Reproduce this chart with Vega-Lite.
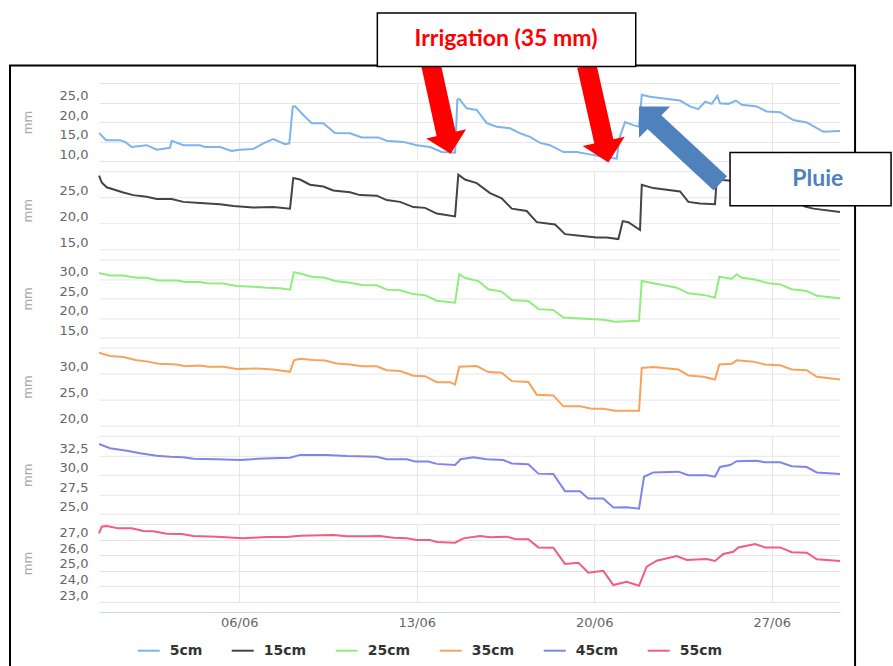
{
"$schema":"https://vega.github.io/schema/vega-lite/v6.json",
"padding":{"left":9,"top":12,"right":0,"bottom":0},
"background":"white",
"spacing":10.2,
"bounds":"flush",
"datasets":{"soil":[
{"s":"5cm","t":"2021-05-31T11:10","v":17.2},{"s":"5cm","t":"2021-05-31T17:50","v":15.35},{"s":"5cm","t":"2021-06-01T07:00","v":15.35},{"s":"5cm","t":"2021-06-01T11:45","v":14.9},{"s":"5cm","t":"2021-06-01T18:05","v":13.6},{"s":"5cm","t":"2021-06-02T08:20","v":14.05},{"s":"5cm","t":"2021-06-02T17:50","v":12.9},{"s":"5cm","t":"2021-06-03T06:20","v":13.4},{"s":"5cm","t":"2021-06-03T08:00","v":15.2},{"s":"5cm","t":"2021-06-03T19:00","v":14.05},{"s":"5cm","t":"2021-06-04T10:50","v":14.05},{"s":"5cm","t":"2021-06-04T15:30","v":13.6},{"s":"5cm","t":"2021-06-05T05:45","v":13.6},{"s":"5cm","t":"2021-06-05T16:50","v":12.6},{"s":"5cm","t":"2021-06-06T00:40","v":12.9},{"s":"5cm","t":"2021-06-06T13:15","v":13.1},{"s":"5cm","t":"2021-06-06T22:45","v":14.5},{"s":"5cm","t":"2021-06-07T08:10","v":15.6},{"s":"5cm","t":"2021-06-07T19:15","v":14.3},{"s":"5cm","t":"2021-06-07T23:20","v":14.5},{"s":"5cm","t":"2021-06-08T02:35","v":23.95},{"s":"5cm","t":"2021-06-08T04:45","v":24.0},{"s":"5cm","t":"2021-06-08T12:35","v":21.8},{"s":"5cm","t":"2021-06-08T20:35","v":19.7},{"s":"5cm","t":"2021-06-09T07:30","v":19.7},{"s":"5cm","t":"2021-06-09T18:35","v":17.2},{"s":"5cm","t":"2021-06-10T08:50","v":17.1},{"s":"5cm","t":"2021-06-10T19:50","v":16.05},{"s":"5cm","t":"2021-06-11T11:35","v":16.05},{"s":"5cm","t":"2021-06-11T19:35","v":15.2},{"s":"5cm","t":"2021-06-12T11:15","v":14.9},{"s":"5cm","t":"2021-06-13T00:00","v":14.05},{"s":"5cm","t":"2021-06-13T12:35","v":13.6},{"s":"5cm","t":"2021-06-13T23:35","v":12.3},{"s":"5cm","t":"2021-06-14T12:15","v":12.1},{"s":"5cm","t":"2021-06-14T14:25","v":25.7},{"s":"5cm","t":"2021-06-14T16:15","v":25.9},{"s":"5cm","t":"2021-06-14T23:15","v":23.5},{"s":"5cm","t":"2021-06-15T08:45","v":23.1},{"s":"5cm","t":"2021-06-15T18:15","v":19.7},{"s":"5cm","t":"2021-06-16T03:40","v":18.8},{"s":"5cm","t":"2021-06-16T16:15","v":18.4},{"s":"5cm","t":"2021-06-17T01:45","v":17.1},{"s":"5cm","t":"2021-06-17T11:15","v":16.2},{"s":"5cm","t":"2021-06-17T20:40","v":14.65},{"s":"5cm","t":"2021-06-18T06:10","v":14.05},{"s":"5cm","t":"2021-06-18T18:45","v":12.3},{"s":"5cm","t":"2021-06-19T07:25","v":12.3},{"s":"5cm","t":"2021-06-19T20:00","v":11.7},{"s":"5cm","t":"2021-06-20T08:35","v":11.0},{"s":"5cm","t":"2021-06-20T21:20","v":10.6},{"s":"5cm","t":"2021-06-20T23:45","v":15.8},{"s":"5cm","t":"2021-06-21T05:10","v":20.0},{"s":"5cm","t":"2021-06-21T13:00","v":19.2},{"s":"5cm","t":"2021-06-21T18:25","v":18.8},{"s":"5cm","t":"2021-06-21T21:00","v":27.0},{"s":"5cm","t":"2021-06-22T04:50","v":26.5},{"s":"5cm","t":"2021-06-22T15:55","v":26.1},{"s":"5cm","t":"2021-06-23T09:15","v":25.5},{"s":"5cm","t":"2021-06-23T18:40","v":24.0},{"s":"5cm","t":"2021-06-24T02:35","v":23.3},{"s":"5cm","t":"2021-06-24T08:55","v":25.2},{"s":"5cm","t":"2021-06-24T15:15","v":24.65},{"s":"5cm","t":"2021-06-24T20:30","v":26.7},{"s":"5cm","t":"2021-06-24T23:05","v":24.8},{"s":"5cm","t":"2021-06-25T07:00","v":24.65},{"s":"5cm","t":"2021-06-25T14:15","v":25.5},{"s":"5cm","t":"2021-06-25T19:40","v":24.4},{"s":"5cm","t":"2021-06-26T09:50","v":24.0},{"s":"5cm","t":"2021-06-26T19:20","v":22.7},{"s":"5cm","t":"2021-06-27T07:55","v":22.5},{"s":"5cm","t":"2021-06-27T20:30","v":20.5},{"s":"5cm","t":"2021-06-28T09:10","v":19.9},{"s":"5cm","t":"2021-06-29T00:55","v":17.5},{"s":"5cm","t":"2021-06-29T16:40","v":17.7},
{"s":"15cm","t":"2021-05-31T11:10","v":29.15},{"s":"15cm","t":"2021-05-31T13:45","v":27.85},{"s":"15cm","t":"2021-05-31T18:25","v":26.9},{"s":"15cm","t":"2021-06-01T10:10","v":25.9},{"s":"15cm","t":"2021-06-01T19:40","v":25.4},{"s":"15cm","t":"2021-06-02T08:20","v":25.1},{"s":"15cm","t":"2021-06-02T17:50","v":24.65},{"s":"15cm","t":"2021-06-03T08:00","v":24.65},{"s":"15cm","t":"2021-06-03T19:00","v":24.1},{"s":"15cm","t":"2021-06-04T10:50","v":23.9},{"s":"15cm","t":"2021-06-05T05:45","v":23.65},{"s":"15cm","t":"2021-06-05T18:20","v":23.3},{"s":"15cm","t":"2021-06-06T13:15","v":23.0},{"s":"15cm","t":"2021-06-07T08:10","v":23.1},{"s":"15cm","t":"2021-06-08T00:00","v":22.8},{"s":"15cm","t":"2021-06-08T03:05","v":28.7},{"s":"15cm","t":"2021-06-08T09:25","v":28.4},{"s":"15cm","t":"2021-06-08T18:55","v":27.4},{"s":"15cm","t":"2021-06-09T07:30","v":27.05},{"s":"15cm","t":"2021-06-09T17:00","v":26.3},{"s":"15cm","t":"2021-06-10T08:50","v":25.95},{"s":"15cm","t":"2021-06-10T18:15","v":25.4},{"s":"15cm","t":"2021-06-11T10:05","v":25.3},{"s":"15cm","t":"2021-06-11T19:35","v":24.45},{"s":"15cm","t":"2021-06-12T08:10","v":24.1},{"s":"15cm","t":"2021-06-12T20:45","v":23.1},{"s":"15cm","t":"2021-06-13T07:50","v":22.95},{"s":"15cm","t":"2021-06-13T18:55","v":21.85},{"s":"15cm","t":"2021-06-14T12:15","v":21.3},{"s":"15cm","t":"2021-06-14T15:20","v":29.35},{"s":"15cm","t":"2021-06-14T21:40","v":28.4},{"s":"15cm","t":"2021-06-15T08:45","v":27.7},{"s":"15cm","t":"2021-06-15T21:20","v":25.8},{"s":"15cm","t":"2021-06-16T08:25","v":24.8},{"s":"15cm","t":"2021-06-16T17:55","v":22.8},{"s":"15cm","t":"2021-06-17T08:05","v":22.35},{"s":"15cm","t":"2021-06-17T17:35","v":20.2},{"s":"15cm","t":"2021-06-18T10:55","v":19.75},{"s":"15cm","t":"2021-06-18T20:20","v":17.9},{"s":"15cm","t":"2021-06-19T10:35","v":17.6},{"s":"15cm","t":"2021-06-20T02:20","v":17.25},{"s":"15cm","t":"2021-06-20T11:50","v":17.25},{"s":"15cm","t":"2021-06-20T22:50","v":16.95},{"s":"15cm","t":"2021-06-21T03:00","v":20.4},{"s":"15cm","t":"2021-06-21T08:15","v":20.2},{"s":"15cm","t":"2021-06-21T19:20","v":18.7},{"s":"15cm","t":"2021-06-21T21:00","v":27.4},{"s":"15cm","t":"2021-06-22T07:55","v":26.75},{"s":"15cm","t":"2021-06-23T09:15","v":26.1},{"s":"15cm","t":"2021-06-23T17:05","v":24.1},{"s":"15cm","t":"2021-06-24T04:10","v":23.8},{"s":"15cm","t":"2021-06-24T18:20","v":23.65},{"s":"15cm","t":"2021-06-24T20:00","v":28.4},{"s":"15cm","t":"2021-06-25T07:00","v":28.2},{"s":"15cm","t":"2021-06-25T22:45","v":27.8},{"s":"15cm","t":"2021-06-26T17:40","v":27.2},{"s":"15cm","t":"2021-06-27T07:55","v":26.5},{"s":"15cm","t":"2021-06-27T22:05","v":24.5},{"s":"15cm","t":"2021-06-28T07:35","v":23.2},{"s":"15cm","t":"2021-06-28T15:25","v":22.8},{"s":"15cm","t":"2021-06-29T16:40","v":22.15},
{"s":"25cm","t":"2021-05-31T11:10","v":31.5},{"s":"25cm","t":"2021-05-31T21:35","v":30.9},{"s":"25cm","t":"2021-06-01T10:10","v":30.9},{"s":"25cm","t":"2021-06-01T22:50","v":30.3},{"s":"25cm","t":"2021-06-02T08:20","v":30.3},{"s":"25cm","t":"2021-06-02T19:20","v":29.6},{"s":"25cm","t":"2021-06-03T12:45","v":29.6},{"s":"25cm","t":"2021-06-03T20:35","v":29.2},{"s":"25cm","t":"2021-06-04T10:50","v":29.2},{"s":"25cm","t":"2021-06-04T17:10","v":28.9},{"s":"25cm","t":"2021-06-05T08:50","v":28.8},{"s":"25cm","t":"2021-06-05T21:30","v":28.2},{"s":"25cm","t":"2021-06-06T13:15","v":28.0},{"s":"25cm","t":"2021-06-07T01:55","v":27.75},{"s":"25cm","t":"2021-06-07T14:30","v":27.6},{"s":"25cm","t":"2021-06-08T00:00","v":27.25},{"s":"25cm","t":"2021-06-08T03:45","v":31.75},{"s":"25cm","t":"2021-06-08T09:25","v":31.4},{"s":"25cm","t":"2021-06-08T20:35","v":30.55},{"s":"25cm","t":"2021-06-09T09:10","v":30.3},{"s":"25cm","t":"2021-06-09T18:35","v":29.45},{"s":"25cm","t":"2021-06-10T08:50","v":29.0},{"s":"25cm","t":"2021-06-10T19:50","v":28.45},{"s":"25cm","t":"2021-06-11T10:05","v":28.35},{"s":"25cm","t":"2021-06-11T19:35","v":27.25},{"s":"25cm","t":"2021-06-12T08:10","v":27.1},{"s":"25cm","t":"2021-06-12T20:45","v":26.1},{"s":"25cm","t":"2021-06-13T07:50","v":25.8},{"s":"25cm","t":"2021-06-13T18:55","v":24.4},{"s":"25cm","t":"2021-06-14T12:15","v":23.9},{"s":"25cm","t":"2021-06-14T16:15","v":31.2},{"s":"25cm","t":"2021-06-14T21:40","v":30.3},{"s":"25cm","t":"2021-06-15T10:15","v":29.45},{"s":"25cm","t":"2021-06-15T19:45","v":27.35},{"s":"25cm","t":"2021-06-16T08:25","v":26.75},{"s":"25cm","t":"2021-06-16T17:55","v":24.6},{"s":"25cm","t":"2021-06-17T09:35","v":24.35},{"s":"25cm","t":"2021-06-17T19:05","v":22.25},{"s":"25cm","t":"2021-06-18T09:15","v":22.05},{"s":"25cm","t":"2021-06-18T18:45","v":20.1},{"s":"25cm","t":"2021-06-19T10:35","v":19.85},{"s":"25cm","t":"2021-06-20T08:35","v":19.5},{"s":"25cm","t":"2021-06-20T19:40","v":19.0},{"s":"25cm","t":"2021-06-21T18:25","v":19.25},{"s":"25cm","t":"2021-06-21T21:00","v":29.45},{"s":"25cm","t":"2021-06-22T07:55","v":28.9},{"s":"25cm","t":"2021-06-23T06:05","v":27.75},{"s":"25cm","t":"2021-06-23T17:05","v":26.3},{"s":"25cm","t":"2021-06-24T07:15","v":25.9},{"s":"25cm","t":"2021-06-24T18:20","v":25.2},{"s":"25cm","t":"2021-06-24T22:25","v":30.55},{"s":"25cm","t":"2021-06-25T10:10","v":30.05},{"s":"25cm","t":"2021-06-25T14:55","v":31.2},{"s":"25cm","t":"2021-06-25T19:40","v":30.3},{"s":"25cm","t":"2021-06-26T06:40","v":29.9},{"s":"25cm","t":"2021-06-26T20:50","v":28.9},{"s":"25cm","t":"2021-06-27T07:55","v":28.6},{"s":"25cm","t":"2021-06-27T19:00","v":27.35},{"s":"25cm","t":"2021-06-28T09:10","v":26.9},{"s":"25cm","t":"2021-06-28T18:40","v":25.65},{"s":"25cm","t":"2021-06-29T16:40","v":25.05},
{"s":"35cm","t":"2021-05-31T11:10","v":34.0},{"s":"35cm","t":"2021-05-31T21:35","v":33.4},{"s":"35cm","t":"2021-06-01T10:10","v":33.2},{"s":"35cm","t":"2021-06-01T22:50","v":32.55},{"s":"35cm","t":"2021-06-02T08:20","v":32.35},{"s":"35cm","t":"2021-06-02T19:20","v":31.9},{"s":"35cm","t":"2021-06-03T12:45","v":31.75},{"s":"35cm","t":"2021-06-03T20:35","v":31.4},{"s":"35cm","t":"2021-06-04T10:50","v":31.55},{"s":"35cm","t":"2021-06-04T18:40","v":31.3},{"s":"35cm","t":"2021-06-05T08:50","v":31.3},{"s":"35cm","t":"2021-06-05T21:30","v":30.9},{"s":"35cm","t":"2021-06-06T16:30","v":31.0},{"s":"35cm","t":"2021-06-07T08:10","v":30.8},{"s":"35cm","t":"2021-06-08T00:00","v":30.35},{"s":"35cm","t":"2021-06-08T03:45","v":32.55},{"s":"35cm","t":"2021-06-08T09:25","v":32.85},{"s":"35cm","t":"2021-06-08T22:05","v":32.6},{"s":"35cm","t":"2021-06-09T09:10","v":32.5},{"s":"35cm","t":"2021-06-09T20:10","v":31.95},{"s":"35cm","t":"2021-06-10T08:50","v":31.75},{"s":"35cm","t":"2021-06-10T19:50","v":31.4},{"s":"35cm","t":"2021-06-11T10:05","v":31.4},{"s":"35cm","t":"2021-06-11T19:35","v":30.65},{"s":"35cm","t":"2021-06-12T08:10","v":30.5},{"s":"35cm","t":"2021-06-12T20:45","v":29.6},{"s":"35cm","t":"2021-06-13T07:50","v":29.5},{"s":"35cm","t":"2021-06-13T18:55","v":28.35},{"s":"35cm","t":"2021-06-14T07:30","v":28.35},{"s":"35cm","t":"2021-06-14T12:15","v":27.9},{"s":"35cm","t":"2021-06-14T16:15","v":31.3},{"s":"35cm","t":"2021-06-15T08:45","v":31.45},{"s":"35cm","t":"2021-06-15T19:45","v":30.3},{"s":"35cm","t":"2021-06-16T08:25","v":30.15},{"s":"35cm","t":"2021-06-16T17:55","v":28.55},{"s":"35cm","t":"2021-06-17T09:35","v":28.4},{"s":"35cm","t":"2021-06-17T17:35","v":25.95},{"s":"35cm","t":"2021-06-18T09:15","v":25.8},{"s":"35cm","t":"2021-06-18T18:45","v":23.7},{"s":"35cm","t":"2021-06-19T10:35","v":23.7},{"s":"35cm","t":"2021-06-19T21:35","v":23.25},{"s":"35cm","t":"2021-06-20T08:35","v":23.25},{"s":"35cm","t":"2021-06-20T19:40","v":22.85},{"s":"35cm","t":"2021-06-21T18:25","v":22.85},{"s":"35cm","t":"2021-06-21T21:00","v":31.1},{"s":"35cm","t":"2021-06-22T07:55","v":31.25},{"s":"35cm","t":"2021-06-23T07:40","v":30.8},{"s":"35cm","t":"2021-06-23T17:05","v":29.65},{"s":"35cm","t":"2021-06-24T07:15","v":29.4},{"s":"35cm","t":"2021-06-24T18:20","v":28.85},{"s":"35cm","t":"2021-06-24T22:25","v":31.75},{"s":"35cm","t":"2021-06-25T10:10","v":31.9},{"s":"35cm","t":"2021-06-25T14:55","v":32.55},{"s":"35cm","t":"2021-06-26T06:40","v":32.3},{"s":"35cm","t":"2021-06-26T17:40","v":31.75},{"s":"35cm","t":"2021-06-27T07:55","v":31.6},{"s":"35cm","t":"2021-06-27T19:00","v":30.8},{"s":"35cm","t":"2021-06-28T09:10","v":30.65},{"s":"35cm","t":"2021-06-28T18:40","v":29.4},{"s":"35cm","t":"2021-06-29T16:40","v":28.85},
{"s":"45cm","t":"2021-05-31T11:10","v":33.95},{"s":"45cm","t":"2021-05-31T21:35","v":33.4},{"s":"45cm","t":"2021-06-01T14:55","v":33.05},{"s":"45cm","t":"2021-06-02T02:00","v":32.75},{"s":"45cm","t":"2021-06-02T17:50","v":32.45},{"s":"45cm","t":"2021-06-03T06:20","v":32.3},{"s":"45cm","t":"2021-06-03T19:00","v":32.25},{"s":"45cm","t":"2021-06-04T04:25","v":32.05},{"s":"45cm","t":"2021-06-05T02:35","v":32.0},{"s":"45cm","t":"2021-06-06T00:40","v":31.9},{"s":"45cm","t":"2021-06-06T22:45","v":32.1},{"s":"45cm","t":"2021-06-08T00:00","v":32.2},{"s":"45cm","t":"2021-06-08T09:25","v":32.55},{"s":"45cm","t":"2021-06-09T10:45","v":32.55},{"s":"45cm","t":"2021-06-10T05:40","v":32.4},{"s":"45cm","t":"2021-06-11T10:05","v":32.3},{"s":"45cm","t":"2021-06-11T19:35","v":32.0},{"s":"45cm","t":"2021-06-12T14:30","v":32.0},{"s":"45cm","t":"2021-06-12T22:20","v":31.7},{"s":"45cm","t":"2021-06-13T10:55","v":31.7},{"s":"45cm","t":"2021-06-13T18:55","v":31.4},{"s":"45cm","t":"2021-06-14T12:15","v":31.25},{"s":"45cm","t":"2021-06-14T17:35","v":32.0},{"s":"45cm","t":"2021-06-15T05:30","v":32.25},{"s":"45cm","t":"2021-06-15T18:15","v":32.0},{"s":"45cm","t":"2021-06-16T09:55","v":31.9},{"s":"45cm","t":"2021-06-16T17:55","v":31.45},{"s":"45cm","t":"2021-06-17T09:35","v":31.35},{"s":"45cm","t":"2021-06-17T19:05","v":30.15},{"s":"45cm","t":"2021-06-18T09:15","v":30.1},{"s":"45cm","t":"2021-06-18T20:20","v":27.9},{"s":"45cm","t":"2021-06-19T10:35","v":27.9},{"s":"45cm","t":"2021-06-19T18:25","v":26.95},{"s":"45cm","t":"2021-06-20T08:35","v":26.95},{"s":"45cm","t":"2021-06-20T18:05","v":25.8},{"s":"45cm","t":"2021-06-21T06:45","v":25.85},{"s":"45cm","t":"2021-06-21T18:25","v":25.65},{"s":"45cm","t":"2021-06-21T23:10","v":29.75},{"s":"45cm","t":"2021-06-22T07:55","v":30.3},{"s":"45cm","t":"2021-06-23T07:40","v":30.4},{"s":"45cm","t":"2021-06-23T17:05","v":29.95},{"s":"45cm","t":"2021-06-24T10:30","v":29.95},{"s":"45cm","t":"2021-06-24T18:20","v":29.75},{"s":"45cm","t":"2021-06-24T23:05","v":31.0},{"s":"45cm","t":"2021-06-25T08:35","v":31.25},{"s":"45cm","t":"2021-06-25T14:55","v":31.75},{"s":"45cm","t":"2021-06-26T09:50","v":31.8},{"s":"45cm","t":"2021-06-26T17:40","v":31.6},{"s":"45cm","t":"2021-06-27T07:55","v":31.6},{"s":"45cm","t":"2021-06-27T19:00","v":31.1},{"s":"45cm","t":"2021-06-28T09:10","v":31.0},{"s":"45cm","t":"2021-06-28T18:40","v":30.3},{"s":"45cm","t":"2021-06-29T16:40","v":30.1},
{"s":"55cm","t":"2021-05-31T11:10","v":27.4},{"s":"55cm","t":"2021-05-31T13:45","v":27.83},{"s":"55cm","t":"2021-05-31T18:25","v":27.87},{"s":"55cm","t":"2021-06-01T05:25","v":27.72},{"s":"55cm","t":"2021-06-01T18:05","v":27.72},{"s":"55cm","t":"2021-06-02T05:05","v":27.55},{"s":"55cm","t":"2021-06-02T14:35","v":27.53},{"s":"55cm","t":"2021-06-03T03:15","v":27.38},{"s":"55cm","t":"2021-06-03T17:30","v":27.36},{"s":"55cm","t":"2021-06-04T04:25","v":27.23},{"s":"55cm","t":"2021-06-05T02:35","v":27.19},{"s":"55cm","t":"2021-06-06T03:45","v":27.08},{"s":"55cm","t":"2021-06-07T01:55","v":27.17},{"s":"55cm","t":"2021-06-07T20:55","v":27.17},{"s":"55cm","t":"2021-06-08T09:25","v":27.25},{"s":"55cm","t":"2021-06-09T17:00","v":27.3},{"s":"55cm","t":"2021-06-10T05:40","v":27.21},{"s":"55cm","t":"2021-06-11T00:35","v":27.21},{"s":"55cm","t":"2021-06-11T13:10","v":27.23},{"s":"55cm","t":"2021-06-12T01:50","v":27.12},{"s":"55cm","t":"2021-06-12T14:30","v":27.08},{"s":"55cm","t":"2021-06-13T00:00","v":26.97},{"s":"55cm","t":"2021-06-13T12:35","v":26.97},{"s":"55cm","t":"2021-06-13T18:55","v":26.85},{"s":"55cm","t":"2021-06-14T12:15","v":26.8},{"s":"55cm","t":"2021-06-14T20:05","v":27.08},{"s":"55cm","t":"2021-06-15T11:55","v":27.23},{"s":"55cm","t":"2021-06-15T21:20","v":27.15},{"s":"55cm","t":"2021-06-16T13:10","v":27.19},{"s":"55cm","t":"2021-06-16T21:00","v":27.04},{"s":"55cm","t":"2021-06-17T09:35","v":27.02},{"s":"55cm","t":"2021-06-17T19:05","v":26.5},{"s":"55cm","t":"2021-06-18T09:15","v":26.48},{"s":"55cm","t":"2021-06-18T20:20","v":25.44},{"s":"55cm","t":"2021-06-19T09:00","v":25.52},{"s":"55cm","t":"2021-06-19T18:25","v":24.88},{"s":"55cm","t":"2021-06-20T08:35","v":25.0},{"s":"55cm","t":"2021-06-20T18:05","v":24.09},{"s":"55cm","t":"2021-06-21T06:45","v":24.3},{"s":"55cm","t":"2021-06-21T18:25","v":24.04},{"s":"55cm","t":"2021-06-22T01:40","v":25.26},{"s":"55cm","t":"2021-06-22T11:10","v":25.65},{"s":"55cm","t":"2021-06-23T06:05","v":25.95},{"s":"55cm","t":"2021-06-23T15:35","v":25.69},{"s":"55cm","t":"2021-06-24T10:30","v":25.76},{"s":"55cm","t":"2021-06-24T18:20","v":25.63},{"s":"55cm","t":"2021-06-25T02:15","v":26.08},{"s":"55cm","t":"2021-06-25T11:40","v":26.22},{"s":"55cm","t":"2021-06-25T16:25","v":26.5},{"s":"55cm","t":"2021-06-26T08:15","v":26.72},{"s":"55cm","t":"2021-06-26T17:40","v":26.5},{"s":"55cm","t":"2021-06-27T07:55","v":26.5},{"s":"55cm","t":"2021-06-27T19:00","v":26.19},{"s":"55cm","t":"2021-06-28T09:10","v":26.16},{"s":"55cm","t":"2021-06-28T18:40","v":25.74},{"s":"55cm","t":"2021-06-29T16:40","v":25.63}
]},
"vconcat":[
{"width":741,"height":78,"resolve":{"axis":{"x":"independent","y":"independent"}},"layer":[
 {"data":{"name":"soil"},"transform":[{"filter":"datum.s === '5cm'"}],"mark":{"type":"line","strokeWidth":2},
  "encoding":{
   "x":{"field":"t","type":"temporal","scale":{"domain":[{"year":2021,"month":5,"date":31,"hours":11,"minutes":10},{"year":2021,"month":6,"date":29,"hours":16,"minutes":40}]},"axis":{"title":null,"labels":false,"ticks":false,"domain":false,"grid":true,"values":[{"year":2021,"month":6,"date":6},{"year":2021,"month":6,"date":13},{"year":2021,"month":6,"date":20},{"year":2021,"month":6,"date":27}]}},
   "y":{"field":"v","type":"quantitative","scale":{"domain":[10,30]},"axis":{"title":"mm","values":[10,15,20,25,30],"labelExpr":"datum.value >= 30 ? '' : replace(format(datum.value, '.1f'), '.', ',')"}},
   "color":{"field":"s","type":"nominal","scale":{"domain":["5cm","15cm","25cm","35cm","45cm","55cm"],"range":["#7cb5ec","#434348","#90ed7d","#f7a35c","#8085e9","#f15c80"]},"legend":{"orient":"none","legendX":37.7,"legendY":555.7,"direction":"horizontal","title":null,"symbolType":"stroke","symbolSize":484,"symbolStrokeWidth":2,"labelFont":"DejaVu Sans","labelFontSize":14,"labelFontWeight":"bold","labelColor":"#333333","labelOffset":9,"columnPadding":25,"padding":0}}
  }},
 {"data":{"values":[{"a":"2021-05-27T22:55","b":"2021-06-30T06:55","c":34.51,"d":-123}]},"mark":{"type":"rect","filled":false,"stroke":"#000000","strokeWidth":2,"clip":false},
  "encoding":{"x":{"field":"a","type":"temporal","scale":{"domain":[{"year":2021,"month":5,"date":31,"hours":11,"minutes":10},{"year":2021,"month":6,"date":29,"hours":16,"minutes":40}]},"axis":null},"x2":{"field":"b"},"y":{"field":"c","type":"quantitative","scale":{"domain":[10,30]},"axis":null},"y2":{"field":"d"}}},
 {"data":{"values":[{"a":"2021-06-13T13:12","b":"2021-06-14T04:21","c":34.95,"d":16.23},{"a":"2021-06-19T16:54","b":"2021-06-20T09:35","c":34.44,"d":14.44}]},"mark":{"type":"rule","color":"#ff0000","strokeWidth":19.5,"clip":false},
  "encoding":{"x":{"field":"a","type":"temporal","scale":{"domain":[{"year":2021,"month":5,"date":31,"hours":11,"minutes":10},{"year":2021,"month":6,"date":29,"hours":16,"minutes":40}]},"axis":null},"x2":{"field":"b"},"y":{"field":"c","type":"quantitative","scale":{"domain":[10,30]},"axis":null},"y2":{"field":"d"}}},
 {"data":{"values":[{"a":"2021-06-14T05:58","c":14.41}]},"mark":{"type":"point","shape":"M-1,-0.5L1,-0.5L0,0.5Z","filled":true,"size":1681,"color":"#ff0000","opacity":1,"strokeWidth":0,"angle":-13,"clip":false},
  "encoding":{"x":{"field":"a","type":"temporal","scale":{"domain":[{"year":2021,"month":5,"date":31,"hours":11,"minutes":10},{"year":2021,"month":6,"date":29,"hours":16,"minutes":40}]},"axis":null},"y":{"field":"c","type":"quantitative","scale":{"domain":[10,30]},"axis":null}}},
 {"data":{"values":[{"a":"2021-06-20T11:10","c":12.33}]},"mark":{"type":"point","shape":"M-1,-0.5L1,-0.5L0,0.5Z","filled":true,"size":1849,"color":"#ff0000","opacity":1,"strokeWidth":0,"angle":-12.5,"clip":false},
  "encoding":{"x":{"field":"a","type":"temporal","scale":{"domain":[{"year":2021,"month":5,"date":31,"hours":11,"minutes":10},{"year":2021,"month":6,"date":29,"hours":16,"minutes":40}]},"axis":null},"y":{"field":"c","type":"quantitative","scale":{"domain":[10,30]},"axis":null}}},
 {"data":{"values":[{"a":"2021-06-11T10:40","b":"2021-06-21T15:17","c":47.95,"d":34.26}]},"mark":{"type":"rect","fill":"#ffffff","stroke":"#000000","strokeWidth":1.5,"clip":false},
  "encoding":{"x":{"field":"a","type":"temporal","scale":{"domain":[{"year":2021,"month":5,"date":31,"hours":11,"minutes":10},{"year":2021,"month":6,"date":29,"hours":16,"minutes":40}]},"axis":null},"x2":{"field":"b"},"y":{"field":"c","type":"quantitative","scale":{"domain":[10,30]},"axis":null},"y2":{"field":"d"}}},
 {"data":{"values":[{"a":"2021-06-16T12:30","c":41.28,"label":"Irrigation (35 mm)"}]},"mark":{"type":"text","font":"Lato","fontSize":23,"fontWeight":"bold","color":"#ff0000","align":"center","baseline":"middle","clip":false},
  "encoding":{"x":{"field":"a","type":"temporal","scale":{"domain":[{"year":2021,"month":5,"date":31,"hours":11,"minutes":10},{"year":2021,"month":6,"date":29,"hours":16,"minutes":40}]},"axis":null},"y":{"field":"c","type":"quantitative","scale":{"domain":[10,30]},"axis":null},"text":{"field":"label"}}}
]},
{"width":741,"height":78,"resolve":{"axis":{"x":"independent","y":"independent"}},"layer":[
 {"data":{"name":"soil"},"transform":[{"filter":"datum.s === '15cm'"}],"mark":{"type":"line","strokeWidth":2},
  "encoding":{
   "x":{"field":"t","type":"temporal","scale":{"domain":[{"year":2021,"month":5,"date":31,"hours":11,"minutes":10},{"year":2021,"month":6,"date":29,"hours":16,"minutes":40}]},"axis":{"title":null,"labels":false,"ticks":false,"domain":false,"grid":true,"values":[{"year":2021,"month":6,"date":6},{"year":2021,"month":6,"date":13},{"year":2021,"month":6,"date":20},{"year":2021,"month":6,"date":27}]}},
   "y":{"field":"v","type":"quantitative","scale":{"domain":[15,30]},"axis":{"title":"mm","values":[15,20,25,30],"labelExpr":"datum.value >= 30 ? '' : replace(format(datum.value, '.1f'), '.', ',')"}},
   "color":{"field":"s","type":"nominal","scale":{"domain":["5cm","15cm","25cm","35cm","45cm","55cm"],"range":["#7cb5ec","#434348","#90ed7d","#f7a35c","#8085e9","#f15c80"]},"legend":{"orient":"none","legendX":37.7,"legendY":555.7,"direction":"horizontal","title":null,"symbolType":"stroke","symbolSize":484,"symbolStrokeWidth":2,"labelFont":"DejaVu Sans","labelFontSize":14,"labelFontWeight":"bold","labelColor":"#333333","labelOffset":9,"columnPadding":25,"padding":0}}
  }},
 {"data":{"values":[{"a":"2021-06-24T23:24","b":"2021-06-22T07:12","c":27.65,"d":39.79}]},"mark":{"type":"rule","color":"#4f81bd","strokeWidth":19.5,"clip":false},
  "encoding":{"x":{"field":"a","type":"temporal","scale":{"domain":[{"year":2021,"month":5,"date":31,"hours":11,"minutes":10},{"year":2021,"month":6,"date":29,"hours":16,"minutes":40}]},"axis":null},"x2":{"field":"b"},"y":{"field":"c","type":"quantitative","scale":{"domain":[15,30]},"axis":null},"y2":{"field":"d"}}},
 {"data":{"values":[{"a":"2021-06-22T01:45","c":40.94}]},"mark":{"type":"point","shape":"M-1,-0.5L1,-0.5L0,0.5Z","filled":true,"size":1936,"color":"#4f81bd","opacity":1,"strokeWidth":0,"angle":135,"clip":false},
  "encoding":{"x":{"field":"a","type":"temporal","scale":{"domain":[{"year":2021,"month":5,"date":31,"hours":11,"minutes":10},{"year":2021,"month":6,"date":29,"hours":16,"minutes":40}]},"axis":null},"y":{"field":"c","type":"quantitative","scale":{"domain":[15,30]},"axis":null}}},
 {"data":{"values":[{"a":"2021-06-25T08:34","b":"2021-07-01T17:00","c":33.62,"d":23.37}]},"mark":{"type":"rect","fill":"#ffffff","stroke":"#000000","strokeWidth":1.5,"clip":false},
  "encoding":{"x":{"field":"a","type":"temporal","scale":{"domain":[{"year":2021,"month":5,"date":31,"hours":11,"minutes":10},{"year":2021,"month":6,"date":29,"hours":16,"minutes":40}]},"axis":null},"x2":{"field":"b"},"y":{"field":"c","type":"quantitative","scale":{"domain":[15,30]},"axis":null},"y2":{"field":"d"}}},
 {"data":{"values":[{"a":"2021-06-28T19:36","c":28.56,"label":"Pluie"}]},"mark":{"type":"text","font":"Lato","fontSize":23,"fontWeight":"bold","color":"#4f81bd","align":"center","baseline":"middle","clip":false},
  "encoding":{"x":{"field":"a","type":"temporal","scale":{"domain":[{"year":2021,"month":5,"date":31,"hours":11,"minutes":10},{"year":2021,"month":6,"date":29,"hours":16,"minutes":40}]},"axis":null},"y":{"field":"c","type":"quantitative","scale":{"domain":[15,30]},"axis":null},"text":{"field":"label"}}}
]},
{"width":741,"height":78,"data":{"name":"soil"},"transform":[{"filter":"datum.s === '25cm'"}],"mark":{"type":"line","strokeWidth":2},
  "encoding":{
   "x":{"field":"t","type":"temporal","scale":{"domain":[{"year":2021,"month":5,"date":31,"hours":11,"minutes":10},{"year":2021,"month":6,"date":29,"hours":16,"minutes":40}]},"axis":{"title":null,"labels":false,"ticks":false,"domain":false,"grid":true,"values":[{"year":2021,"month":6,"date":6},{"year":2021,"month":6,"date":13},{"year":2021,"month":6,"date":20},{"year":2021,"month":6,"date":27}]}},
   "y":{"field":"v","type":"quantitative","scale":{"domain":[15,35]},"axis":{"title":"mm","values":[15,20,25,30,35],"labelExpr":"datum.value >= 35 ? '' : replace(format(datum.value, '.1f'), '.', ',')"}},
   "color":{"field":"s","type":"nominal","scale":{"domain":["5cm","15cm","25cm","35cm","45cm","55cm"],"range":["#7cb5ec","#434348","#90ed7d","#f7a35c","#8085e9","#f15c80"]},"legend":{"orient":"none","legendX":37.7,"legendY":555.7,"direction":"horizontal","title":null,"symbolType":"stroke","symbolSize":484,"symbolStrokeWidth":2,"labelFont":"DejaVu Sans","labelFontSize":14,"labelFontWeight":"bold","labelColor":"#333333","labelOffset":9,"columnPadding":25,"padding":0}}
  }},
{"width":741,"height":78,"data":{"name":"soil"},"transform":[{"filter":"datum.s === '35cm'"}],"mark":{"type":"line","strokeWidth":2},
  "encoding":{
   "x":{"field":"t","type":"temporal","scale":{"domain":[{"year":2021,"month":5,"date":31,"hours":11,"minutes":10},{"year":2021,"month":6,"date":29,"hours":16,"minutes":40}]},"axis":{"title":null,"labels":false,"ticks":false,"domain":false,"grid":true,"values":[{"year":2021,"month":6,"date":6},{"year":2021,"month":6,"date":13},{"year":2021,"month":6,"date":20},{"year":2021,"month":6,"date":27}]}},
   "y":{"field":"v","type":"quantitative","scale":{"domain":[20,35]},"axis":{"title":"mm","values":[20,25,30,35],"labelExpr":"datum.value >= 35 ? '' : replace(format(datum.value, '.1f'), '.', ',')"}},
   "color":{"field":"s","type":"nominal","scale":{"domain":["5cm","15cm","25cm","35cm","45cm","55cm"],"range":["#7cb5ec","#434348","#90ed7d","#f7a35c","#8085e9","#f15c80"]},"legend":{"orient":"none","legendX":37.7,"legendY":555.7,"direction":"horizontal","title":null,"symbolType":"stroke","symbolSize":484,"symbolStrokeWidth":2,"labelFont":"DejaVu Sans","labelFontSize":14,"labelFontWeight":"bold","labelColor":"#333333","labelOffset":9,"columnPadding":25,"padding":0}}
  }},
{"width":741,"height":78,"data":{"name":"soil"},"transform":[{"filter":"datum.s === '45cm'"}],"mark":{"type":"line","strokeWidth":2},
  "encoding":{
   "x":{"field":"t","type":"temporal","scale":{"domain":[{"year":2021,"month":5,"date":31,"hours":11,"minutes":10},{"year":2021,"month":6,"date":29,"hours":16,"minutes":40}]},"axis":{"title":null,"labels":false,"ticks":false,"domain":false,"grid":true,"values":[{"year":2021,"month":6,"date":6},{"year":2021,"month":6,"date":13},{"year":2021,"month":6,"date":20},{"year":2021,"month":6,"date":27}]}},
   "y":{"field":"v","type":"quantitative","scale":{"domain":[25,35]},"axis":{"title":"mm","values":[25,27.5,30,32.5,35],"labelExpr":"datum.value >= 35 ? '' : replace(format(datum.value, '.1f'), '.', ',')"}},
   "color":{"field":"s","type":"nominal","scale":{"domain":["5cm","15cm","25cm","35cm","45cm","55cm"],"range":["#7cb5ec","#434348","#90ed7d","#f7a35c","#8085e9","#f15c80"]},"legend":{"orient":"none","legendX":37.7,"legendY":555.7,"direction":"horizontal","title":null,"symbolType":"stroke","symbolSize":484,"symbolStrokeWidth":2,"labelFont":"DejaVu Sans","labelFontSize":14,"labelFontWeight":"bold","labelColor":"#333333","labelOffset":9,"columnPadding":25,"padding":0}}
  }},
{"width":741,"height":78,"data":{"name":"soil"},"transform":[{"filter":"datum.s === '55cm'"}],"mark":{"type":"line","strokeWidth":2},
  "encoding":{
   "x":{"field":"t","type":"temporal","scale":{"domain":[{"year":2021,"month":5,"date":31,"hours":11,"minutes":10},{"year":2021,"month":6,"date":29,"hours":16,"minutes":40}]},"axis":{"title":null,"format":"%d/%m","ticks":false,"domain":true,"domainColor":"#ccd6eb","grid":true,"offset":10,"labelPadding":4,"labelFlush":false,"values":[{"year":2021,"month":6,"date":6},{"year":2021,"month":6,"date":13},{"year":2021,"month":6,"date":20},{"year":2021,"month":6,"date":27}]}},
   "y":{"field":"v","type":"quantitative","scale":{"domain":[23,28]},"axis":{"title":"mm","values":[23,24,25,26,27,28],"labelExpr":"datum.value >= 28 ? '' : replace(format(datum.value, '.1f'), '.', ',')"}},
   "color":{"field":"s","type":"nominal","scale":{"domain":["5cm","15cm","25cm","35cm","45cm","55cm"],"range":["#7cb5ec","#434348","#90ed7d","#f7a35c","#8085e9","#f15c80"]},"legend":{"orient":"none","legendX":37.7,"legendY":555.7,"direction":"horizontal","title":null,"symbolType":"stroke","symbolSize":484,"symbolStrokeWidth":2,"labelFont":"DejaVu Sans","labelFontSize":14,"labelFontWeight":"bold","labelColor":"#333333","labelOffset":9,"columnPadding":25,"padding":0}}
  }}
],
"resolve":{"scale":{"x":"independent","y":"independent","color":"shared"}},
"config":{
 "view":{"stroke":null},
 "font":"DejaVu Sans",
 "axis":{"gridColor":"#e6e6e6","gridWidth":1,"domain":false,"ticks":false,"labelFont":"DejaVu Sans","labelFontSize":13,"labelColor":"#666666","titleFont":"DejaVu Sans"},
 "axisY":{"labelBaseline":"bottom","labelPadding":11,"labelFlush":false,"labelOverlap":false,"titleColor":"#aaaaaa","titleFontSize":12,"titleFontWeight":"normal","titlePadding":25}
}
}
